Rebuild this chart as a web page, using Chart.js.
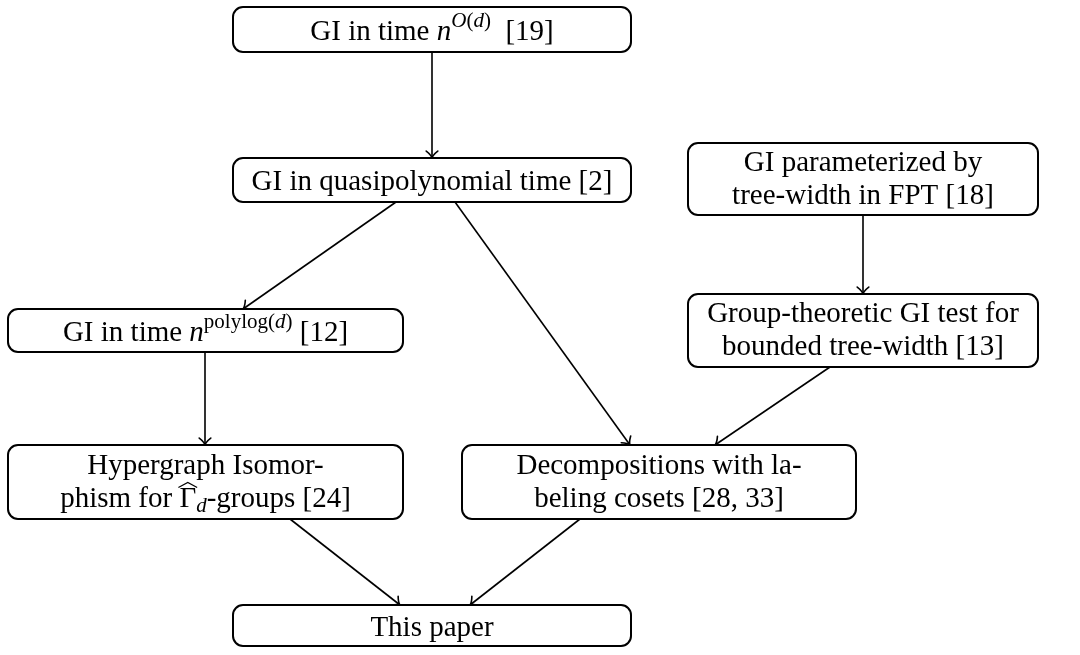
<!DOCTYPE html>
<html><head><meta charset="utf-8">
<script src="https://cdn.jsdelivr.net/npm/chart.js@4"></script>
<style>html,body{margin:0;padding:0;background:#fff}#wrap{width:1080px;height:655px;position:relative}</style>
</head><body><div id="wrap"><canvas id="c"></canvas></div>
<script>
// ---- Diagram data ----
const nodeLabels = [
  [[["GI in time ","r"],["n","i"],["O","supi"],["(","sup"],["d","supi"],[")","sup"],["  [19]","r"]]],
  [[["GI in quasipolynomial time [2]","r"]]],
  [[["GI parameterized by","r"]],[["tree-width in FPT [18]","r"]]],
  [[["GI in time ","r"],["n","i"],["polylog(","sup"],["d","supi"],[")","sup"],[" [12]","r"]]],
  [[["Group-theoretic GI test for","r"]],[["bounded tree-width [13]","r"]]],
  [[["Hypergraph Isomor-","r"]],[["phism for ","r"],["Γ","hat"],["d","subi"],["-groups [24]","r"]]],
  [[["Decompositions with la-","r"]],[["beling cosets [28, 33]","r"]]],
  [[["This paper","r"]]]
];
const nodeX = [432, 432, 863, 205.5, 863, 205.5, 659, 432];
const nodeY = [29.5, 180, 179, 330.5, 330.5, 482, 482, 625.5];
const nodeW = [398, 398, 350, 395, 350, 395, 394, 398];
const nodeH = [45, 44, 72, 43, 73, 74, 74, 41];

const edgeFrom   = [0, 1, 1, 2, 4, 3, 5, 6];
const edgeTo     = [1, 3, 6, 4, 6, 5, 7, 7];
const edgeStartX = [432, 396, 455, 863, 830, 205, 290, 580];
const edgeStartY = [52, 202, 202, 215, 367, 352, 519, 519];
const edgeEndX   = [432, 243, 630, 863, 715, 205, 400, 470];
const edgeEndY   = [158, 309, 445, 294, 445, 445, 605, 605];

// ---- Styling ----
const FONT = '"Liberation Serif", "Times New Roman", serif';
const FS = 29;
const LINE_GAP = 33;

function segFont(style){
  const italic = (style === 'i' || style === 'supi' || style === 'subi') ? 'italic ' : '';
  const small = (style.startsWith('sup') || style.startsWith('sub'));
  const size = small ? Math.round(FS*0.72) : FS;
  return italic + size + 'px ' + FONT;
}
function segShift(style){
  if (style.startsWith('sup')) return -0.42*FS;
  if (style.startsWith('sub')) return 0.2*FS;
  return 0;
}

const datasets = [{
  label: 'nodes',
  data: nodeX.map((x,i)=>({x:x, y:nodeY[i]})),
  pointRadius: 0, showLine: false
}];
edgeFrom.forEach((f,i)=>{
  datasets.push({
    label: 'edge'+f+'-'+edgeTo[i],
    data: [{x:edgeStartX[i], y:edgeStartY[i]},{x:edgeEndX[i], y:edgeEndY[i]}],
    showLine: true, borderColor: '#000', borderWidth: 1.6, pointRadius: 0, fill: false
  });
});

const diagramPlugin = {
  id: 'diagram',
  afterDatasetsDraw(chart){
    const ctx = chart.ctx, xs = chart.scales.x, ys = chart.scales.y;
    for (let i=1;i<datasets.length;i++){
      const pts = chart.getDatasetMeta(i).data;
      const p0 = pts[0], p1 = pts[1];
      const ang = Math.atan2(p1.y-p0.y, p1.x-p0.x);
      const L = 9, a = 0.7;
      ctx.save();
      ctx.strokeStyle = '#000'; ctx.lineWidth = 1.6; ctx.lineCap='round'; ctx.lineJoin='round';
      ctx.beginPath();
      ctx.moveTo(p1.x - L*Math.cos(ang-a), p1.y - L*Math.sin(ang-a));
      ctx.quadraticCurveTo(p1.x - 3*Math.cos(ang-0.25), p1.y - 3*Math.sin(ang-0.25), p1.x, p1.y);
      ctx.quadraticCurveTo(p1.x - 3*Math.cos(ang+0.25), p1.y - 3*Math.sin(ang+0.25), p1.x - L*Math.cos(ang+a), p1.y - L*Math.sin(ang+a));
      ctx.stroke();
      ctx.restore();
    }
    const meta = chart.getDatasetMeta(0);
    meta.data.forEach((pt,i)=>{
      const cx = pt.x, cy = pt.y;
      const w = xs.getPixelForValue(nodeX[i]+nodeW[i]/2) - xs.getPixelForValue(nodeX[i]-nodeW[i]/2);
      const h = Math.abs(ys.getPixelForValue(nodeY[i]+nodeH[i]/2) - ys.getPixelForValue(nodeY[i]-nodeH[i]/2));
      ctx.save();
      ctx.fillStyle = '#fff'; ctx.strokeStyle = '#000'; ctx.lineWidth = 2;
      ctx.beginPath();
      ctx.roundRect(cx-w/2, cy-h/2, w, h, 10);
      ctx.fill(); ctx.stroke();
      const lines = nodeLabels[i];
      const n = lines.length;
      lines.forEach((segs, li)=>{
        const base = cy + 0.35*FS + (li-(n-1)/2)*LINE_GAP - (n>1 ? 2 : 0);
        let total = 0;
        const widths = segs.map(s=>{ ctx.font = segFont(s[1]); const m = ctx.measureText(s[0]).width; total += m; return m; });
        let x = cx - total/2;
        ctx.fillStyle = '#000'; ctx.textBaseline = 'alphabetic'; ctx.textAlign = 'left';
        segs.forEach((s,k)=>{
          ctx.font = segFont(s[1]);
          ctx.fillText(s[0], x, base + segShift(s[1]));
          if (s[1] === 'hat'){
            const top = base - 0.66*FS - 4;
            ctx.beginPath(); ctx.lineWidth = 1.2;
            ctx.moveTo(x-1, top+4); ctx.lineTo(x+widths[k]/2, top-1); ctx.lineTo(x+widths[k]+1, top+4);
            ctx.stroke();
          }
          x += widths[k];
        });
      });
      ctx.restore();
    });
  }
};

new Chart(document.getElementById('c'), {
  type: 'scatter',
  data: { datasets },
  options: {
    responsive: true, maintainAspectRatio: false, animation: false,
    layout: { padding: 0 },
    plugins: { legend: {display:false}, tooltip: {enabled:false} },
    scales: {
      x: { type:'linear', min:0, max:1080, display:false },
      y: { type:'linear', min:0, max:655, reverse:true, display:false }
    }
  },
  plugins: [diagramPlugin]
});
</script>
</body></html>
